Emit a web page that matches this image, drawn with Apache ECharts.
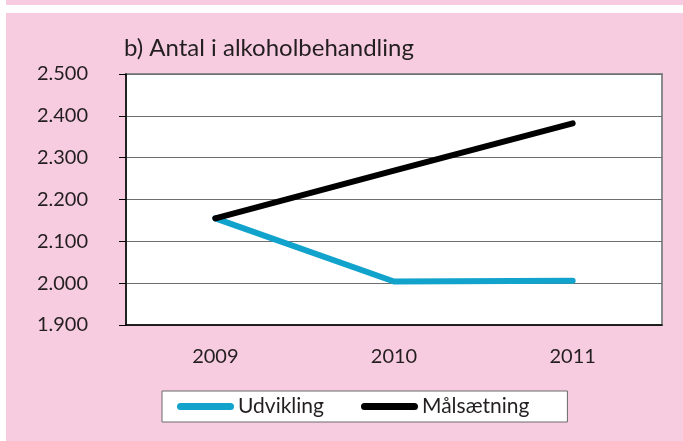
<!DOCTYPE html>
<html>
<head>
<meta charset="utf-8">
<script src="https://cdn.jsdelivr.net/npm/echarts@6/dist/echarts.min.js"></script>
<style>
  html, body { margin: 0; padding: 0; background: #fff; width: 683px; height: 441px; overflow: hidden; }
  .strip { position: absolute; left: 6px; top: 0; width: 677px; height: 5px; background: #f8cce0; }
  .chart { position: absolute; left: 6px; top: 13px; width: 677px; height: 428px; background: #f8cce0; }
</style>
</head>
<body>
<div class="strip"></div>
<div class="chart"></div>
<script>
// 数据
var years = ['2009', '2010', '2011'];
var udvikling = [2155, 2004, 2006];
var maalsaetning = [2155, 2269, 2382];

var myChart = echarts.init(document.querySelector('.chart'));

var font = 'Lato, "Open Sans", sans-serif';
var textColor = '#231f20';

var option = {
    animation: false,
    title: {
        text: 'b) Antal i alkoholbehandling',
        left: 113,
        top: 18,
        textStyle: { fontFamily: font, fontSize: 24, fontWeight: 'normal', color: textColor }
    },
    grid: {
        left: 120, right: 21, top: 61, bottom: 116,
        show: true,
        backgroundColor: '#fff',
        borderColor: '#8a8a8a',
        borderWidth: 2
    },
    legend: {
        bottom: 19,
        left: 156,
        itemWidth: 57,
        itemHeight: 7,
        itemGap: 37,
        padding: [5, 38, 5, 15],
        backgroundColor: '#fff',
        borderColor: '#6a6a6a',
        borderWidth: 1,
        icon: 'path://M3.5,0 L53.5,0 A3.5,3.5 0 0 1 53.5,7 L3.5,7 A3.5,3.5 0 0 1 3.5,0 Z',
        textStyle: { fontFamily: font, fontSize: 21, color: textColor, padding: [0, 0, 0, -1] },
        data: ['Udvikling', 'Målsætning']
    },
    xAxis: {
        type: 'category',
        data: years,
        boundaryGap: true,
        axisLine: { lineStyle: { color: '#000', width: 1.5 } },
        axisTick: { length: 7, lineStyle: { color: '#000' } },
        axisLabel: { margin: 22, fontFamily: font, fontSize: 20, color: textColor }
    },
    yAxis: {
        type: 'value',
        min: 1900,
        max: 2500,
        interval: 100,
        axisLine: { show: true, lineStyle: { color: '#000', width: 1.5 } },
        axisTick: { show: true, length: 7, lineStyle: { color: '#000' } },
        splitLine: { lineStyle: { color: '#6e6e6e', width: 1 } },
        axisLabel: {
            margin: 38,
            fontFamily: font, fontSize: 20, color: textColor,
            formatter: function (v) { return (v / 1000).toFixed(3); }
        }
    },
    series: [
        {
            name: 'Udvikling',
            type: 'line',
            data: udvikling,
            symbol: 'none',
            color: '#12a3cc',
            lineStyle: { width: 6, cap: 'round', join: 'round' }
        },
        {
            name: 'Målsætning',
            type: 'line',
            data: maalsaetning,
            symbol: 'none',
            color: '#000',
            lineStyle: { width: 6, cap: 'round', join: 'round' }
        }
    ]
};

myChart.setOption(option);
</script>
</body>
</html>
